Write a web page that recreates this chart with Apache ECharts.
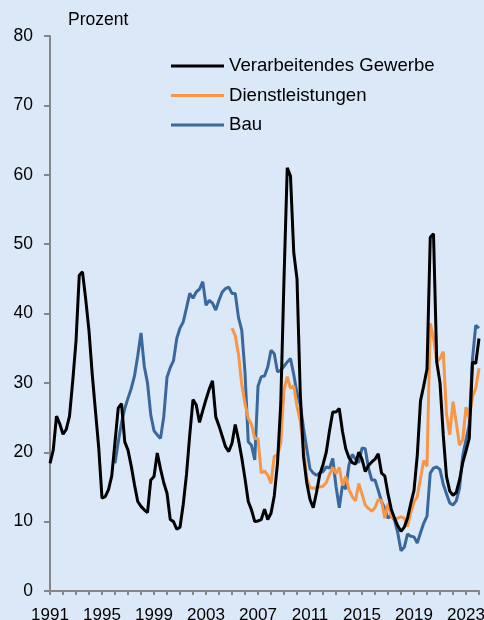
<!DOCTYPE html>
<html>
<head>
<meta charset="utf-8">
<script src="https://cdn.jsdelivr.net/npm/echarts@6/dist/echarts.min.js"></script>
<style>
  html, body { margin: 0; padding: 0; background: #dbe8f7; }
  #chart { width: 484px; height: 620px; }
</style>
</head>
<body>
<div id="chart"></div>
<script>
// quarterly values, 1991Q1 .. 2024Q1
const firstYear = 1991;
const lastYear = 2024;

const gewerbe = [
  18.4, 20.3, 25.2, 24.1, 22.6, 23.3, 25.2, 30.3, 36.0, 45.5, 46.0, 42.0,
  37.5, 31.2, 25.9, 20.6, 13.4, 13.6, 14.6, 16.6, 21.5, 26.4, 27.0, 21.5,
  20.3, 18.0, 15.3, 12.9, 12.2, 11.7, 11.3, 16.0, 16.5, 19.9, 17.6, 15.6,
  14.1, 10.3, 10.0, 8.9, 9.2, 12.5, 16.8, 22.5, 27.6, 26.8, 24.3, 26.0,
  27.6, 29.1, 30.3, 25.1, 23.8, 22.3, 20.8, 20.1, 21.3, 24.0, 21.8, 19.2,
  16.2, 12.9, 11.7, 10.0, 10.1, 10.3, 11.8, 10.3, 11.2, 13.7, 18.4, 27.0,
  45.0, 61.0, 59.8, 48.8, 45.0, 28.5, 19.4, 15.6, 13.2, 12.0, 14.2, 16.8,
  18.2, 20.0, 23.1, 25.8, 25.8, 26.3, 23.0, 20.5, 19.2, 18.5, 18.3, 20.0,
  19.0, 17.2, 18.1, 18.6, 19.0, 19.8, 17.0, 16.6, 14.0, 11.8, 10.5, 9.4,
  8.6, 9.2, 10.5, 12.6, 14.5, 19.5, 27.4, 29.6, 32.0, 51.0, 51.5, 33.0,
  30.0, 22.5, 16.5, 14.4, 13.8, 14.2, 16.0, 18.5, 20.2, 22.0, 33.0, 32.8,
  36.4
];

// starts 2005Q1
const dienstStart = '2005Q1';
const dienstleistungen = [
  37.9, 36.8, 34.1, 29.8, 27.0, 24.9, 24.0, 22.0, 22.0, 17.0, 17.3, 16.7,
  15.5, 19.4, 19.6, 21.3, 29.0, 30.9, 29.2, 29.6, 26.6, 24.5, 20.5, 16.2,
  14.9, 14.8, 14.9, 15.0, 15.1, 15.6, 16.8, 17.8, 16.9, 17.8, 15.2, 16.5,
  14.6, 13.6, 13.0, 15.5, 14.0, 12.4, 11.9, 11.5, 12.0, 13.2, 13.0, 10.5,
  12.6, 10.8, 10.4, 10.5, 10.7, 10.5, 9.3, 11.3, 12.8, 13.6, 16.2, 18.8,
  18.0, 38.6, 36.5, 33.0, 33.5, 34.5, 25.5, 22.5, 27.3, 24.3, 21.0, 21.8,
  26.5, 24.8, 28.0, 29.2, 32.1
];

// starts 1996Q1
const bauStart = '1996Q1';
const bau = [
  18.4, 21.5, 24.2, 26.3, 27.8, 29.2, 31.0, 33.9, 37.2, 32.4, 30.0, 25.4,
  23.1, 22.5, 22.0, 25.1, 30.8, 32.2, 33.2, 36.4, 37.9, 38.8, 40.8, 42.9,
  42.2, 43.1, 43.5, 44.6, 41.2, 41.9, 41.5, 40.5, 41.9, 43.1, 43.6, 43.8,
  42.9, 42.9, 39.4, 37.6, 31.5, 21.5, 21.0, 18.9, 29.5, 30.9, 31.0, 32.3,
  34.7, 34.2, 31.6, 31.8, 32.4, 33.0, 33.5, 31.2, 28.5, 26.9, 23.5, 20.5,
  17.6, 17.0, 16.7, 17.0, 17.2, 17.9, 17.7, 19.1, 15.1, 12.0, 15.3, 14.7,
  18.2, 19.7, 19.0, 18.5, 20.6, 20.5, 17.7, 16.0, 16.0, 14.5, 12.9, 11.9,
  10.5, 10.9, 10.2, 8.4, 5.8, 6.3, 8.2, 7.9, 7.8, 6.9, 8.4, 9.8,
  10.8, 17.0, 17.7, 17.9, 17.5, 15.4, 14.0, 12.7, 12.4, 13.0, 14.8, 19.5,
  21.8, 24.0, 33.5, 38.3, 37.9
];

const yTicks = [0, 10, 20, 30, 40, 50, 60, 70, 80];

const quarters = [];
for (let y = firstYear; y <= lastYear; y++) {
  for (let q = 1; q <= 4; q++) {
    if (y === lastYear && q > 1) break;
    quarters.push(y + 'Q' + q);
  }
}

function pad(values, start) {
  const offset = quarters.indexOf(start);
  const out = new Array(offset).fill(null);
  return out.concat(values);
}

const chart = echarts.init(document.getElementById('chart'));
const axisColor = '#868686';
const font = 'Liberation Sans, Arial, sans-serif';

chart.setOption({
  backgroundColor: '#dbe8f7',
  animation: false,
  textStyle: { fontFamily: font },
  title: {
    text: 'Prozent',
    left: 68,
    top: 11,
    padding: 0,
    textStyle: { fontSize: 17.5, fontWeight: 'normal', color: '#000', fontFamily: font }
  },
  legend: {
    orient: 'vertical',
    left: 171,
    top: 56,
    padding: 0,
    icon: 'rect',
    itemWidth: 53,
    itemHeight: 3,
    itemGap: 9.5,
    textStyle: { fontSize: 18.6, color: '#000', lineHeight: 20 },
    data: ['Verarbeitendes Gewerbe', 'Dienstleistungen', 'Bau']
  },
  grid: { left: 50, right: 5, top: 36, bottom: 29, outerBoundsMode: 'none' },
  xAxis: {
    type: 'category',
    data: quarters,
    boundaryGap: false,
    axisLine: { lineStyle: { color: axisColor, width: 2 } },
    axisTick: {
      length: 4,
      interval: (i) => i % 4 === 0,
      lineStyle: { color: axisColor, width: 2 }
    },
    axisLabel: {
      interval: (i) => i % 16 === 0,
      formatter: (v) => v.slice(0, 4),
      fontSize: 17,
      color: '#000',
      margin: 16
    },
    splitLine: { show: false }
  },
  yAxis: {
    type: 'value',
    min: yTicks[0],
    max: yTicks[yTicks.length - 1],
    interval: 10,
    axisLine: { show: true, lineStyle: { color: axisColor, width: 2 } },
    axisTick: { show: true, length: 6, lineStyle: { color: axisColor, width: 2 } },
    axisLabel: { fontSize: 17.5, color: '#000', margin: 17 },
    splitLine: { show: false }
  },
  series: [
    {
      name: 'Verarbeitendes Gewerbe',
      type: 'line',
      data: gewerbe,
      symbol: 'none',
      color: '#000000',
      lineStyle: { width: 3 },
      z: 3
    },
    {
      name: 'Dienstleistungen',
      type: 'line',
      data: pad(dienstleistungen, dienstStart),
      symbol: 'none',
      color: '#f79646',
      lineStyle: { width: 3 },
      z: 2
    },
    {
      name: 'Bau',
      type: 'line',
      data: pad(bau, bauStart),
      symbol: 'none',
      color: '#3a679c',
      lineStyle: { width: 3 },
      z: 1
    }
  ]
});
</script>
</body>
</html>
